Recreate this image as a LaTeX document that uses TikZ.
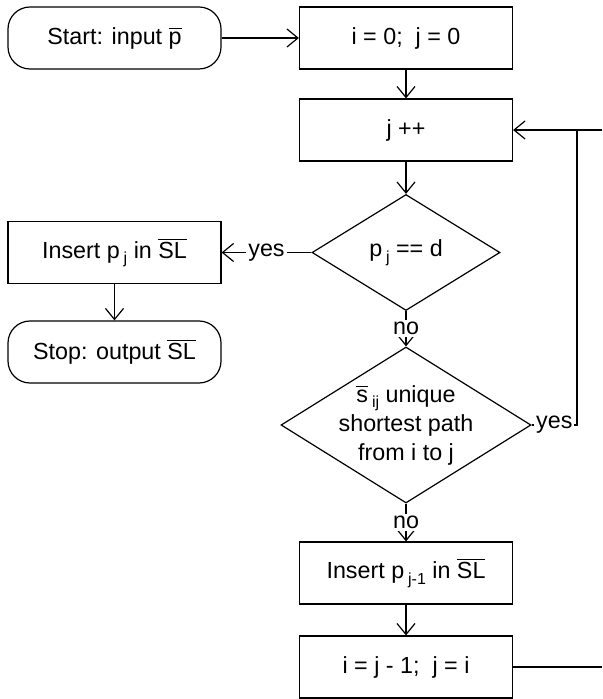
\documentclass[tikz,border=0pt]{standalone}
\usepackage{fontspec}
\setmainfont{Liberation Sans}
\usetikzlibrary{shapes.geometric,arrows.meta}
\newcommand{\lowidx}[1]{\,\raisebox{-0.45ex}{\fontsize{8pt}{9pt}\selectfont #1}}
\begin{document}
\begin{tikzpicture}[x=0.5pt,y=-0.5pt,line width=0.6pt,
  every node/.style={font=\fontsize{11.65pt}{14.5pt}\selectfont},
  blk/.style={shape=rectangle,draw=black,minimum width=106.5pt,minimum height=31pt,inner sep=0pt},
  term/.style={blk,rounded corners=11pt},
  test/.style={shape=diamond,draw=black,inner sep=-3pt,aspect=1.6,align=center},
  lbl/.style={fill=white,inner sep=1pt},
  arr/.style={-{Straight Barb[length=5.5pt,width=9pt]}}]
\def\xa{114.5};
\def\xb{406};

\useasboundingbox (0,0) rectangle (602,699);

\node[term] (start) at (\xa,38) {Start: input $\overline{\mbox{p}}$};
\node[blk] (init) at (\xb,38) {i = 0;\ \ j = 0};
\node[blk] (inc) at (\xb,130) {j ++};
\node[test,minimum width=94pt,minimum height=58pt] (dest) at (\xb,252.5) {p\lowidx{j} == d};
\node[blk] (ins) at (\xa,252.5) {Insert p\lowidx{j} in $\overline{\mbox{SL}}$};
\node[term] (stop) at (\xa,352) {Stop: output $\overline{\mbox{SL}}$};
\node[test,minimum width=125pt,minimum height=78pt] (uniq) at (\xb,425) {$\overline{\mbox{s}}$\lowidx{ij} unique\\shortest path\\from i to j};
\node[blk] (insb) at (\xb,573) {Insert p\lowidx{j-1} in $\overline{\mbox{SL}}$};
\node[blk] (reset) at (\xb,667) {i = j - 1;\ \ j = i};

\coordinate (loop) at (577,130);
\coordinate (edgeA) at (602,130);
\coordinate (edgeB) at (602,667);

\draw[arr] (start) -- (init);
\draw[arr] (init) -- (inc);
\draw[arr] (inc) -- (dest);
\draw[arr] (dest) -- node[lbl] (yesA) {yes} (ins);
\draw[arr] (ins) -- (stop);
\draw[arr] (dest) -- node[lbl] (noA) {no} (uniq);
\draw[arr] (uniq) -- node[lbl] (noB) {no} (insb);
\draw[arr] (insb) -- (reset);
\draw (uniq.east) -- node[lbl] (yesB) {yes} (uniq.east -| loop) -- (loop);
\draw[arr] (edgeA) -- (inc.east);
\draw (reset.east) -- (edgeB);
\end{tikzpicture}
\end{document}
